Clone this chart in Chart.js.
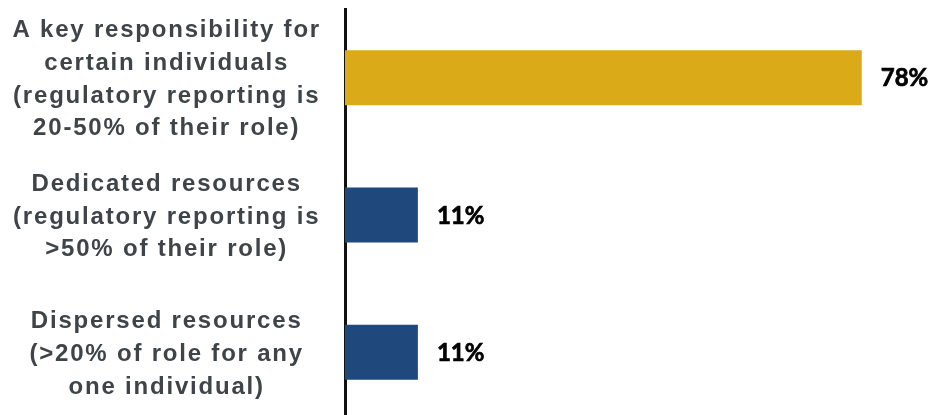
<!DOCTYPE html>
<html>
<head>
<meta charset="utf-8">
<script src="https://cdn.jsdelivr.net/npm/chart.js@4"></script>
<style>
    html, body { margin: 0; padding: 0; background: #fff; overflow: hidden; }
    #wrap { position: relative; width: 934px; height: 421px; }
</style>
</head>
<body>
<div id="wrap">
    <canvas id="chart-resources"></canvas>
</div>
<script>
const categories = [
    ["A key responsibility for", "certain individuals", "(regulatory reporting is", "20-50% of their role)"],
    ["Dedicated resources", "(regulatory reporting is", ">50% of their role)"],
    ["Dispersed resources", "(>20% of role for any", "one individual)"]
];
const shares = [78, 11, 11];
const barColors = ["#DAAA18", "#1F497D", "#1F497D"];

// spaced-out category labels, set on the context before layout and drawing
const letterSpacing = {
    id: "letterSpacing",
    beforeLayout(chart){ chart.ctx.letterSpacing = "1.8px"; },
    beforeDraw(chart){ chart.ctx.letterSpacing = "1.8px"; }
};

// percentage written just past the end of each bar
const valueLabels = {
    id: "valueLabels",
    afterDatasetsDraw(chart){
        const ctx = chart.ctx;
        const meta = chart.getDatasetMeta(0);
        ctx.save();
        ctx.letterSpacing = "0px";
        ctx.font = "bold 24px Lato";
        ctx.fillStyle = "#000";
        ctx.strokeStyle = "#000";
        ctx.lineWidth = 0.7;
        ctx.textAlign = "left";
        ctx.textBaseline = "middle";
        meta.data.forEach((bar, i) => {
            const text = shares[i] + "%";
            ctx.fillText(text, bar.x + 19, bar.y + 1);
            ctx.strokeText(text, bar.x + 19, bar.y + 1);
        });
        ctx.restore();
    }
};

new Chart(document.getElementById("chart-resources"), {
    type: "bar",
    data: {
        labels: categories,
        datasets: [{
            data: shares,
            backgroundColor: barColors,
            borderWidth: 0,
            categoryPercentage: 1,
            barPercentage: 0.4
        }]
    },
    options: {
        indexAxis: "y",
        responsive: true,
        maintainAspectRatio: false,
        animation: false,
        layout: {
            padding: { top: 9, right: 6, left: 0, bottom: 0 }
        },
        plugins: {
            legend: { display: false },
            tooltip: { enabled: false }
        },
        scales: {
            x: {
                display: false,
                min: 0,
                max: 88
            },
            y: {
                // fixed axis width, and no extra room reserved for the tall labels
                afterFit(scale){
                    scale.width = 345;
                    scale.paddingTop = 0;
                    scale.paddingBottom = 0;
                },
                grid: { display: true, drawOnChartArea: false, drawTicks: false },
                border: { display: true, color: "#111", width: 3 },
                ticks: {
                    crossAlign: "center",
                    padding: 24,
                    labelOffset: 2,
                    color: "#3F4448",
                    font: { family: "'Liberation Sans', Arial", size: 24, weight: "bold", lineHeight: 1.36 }
                }
            }
        }
    },
    plugins: [letterSpacing, valueLabels]
});
</script>
</body>
</html>
